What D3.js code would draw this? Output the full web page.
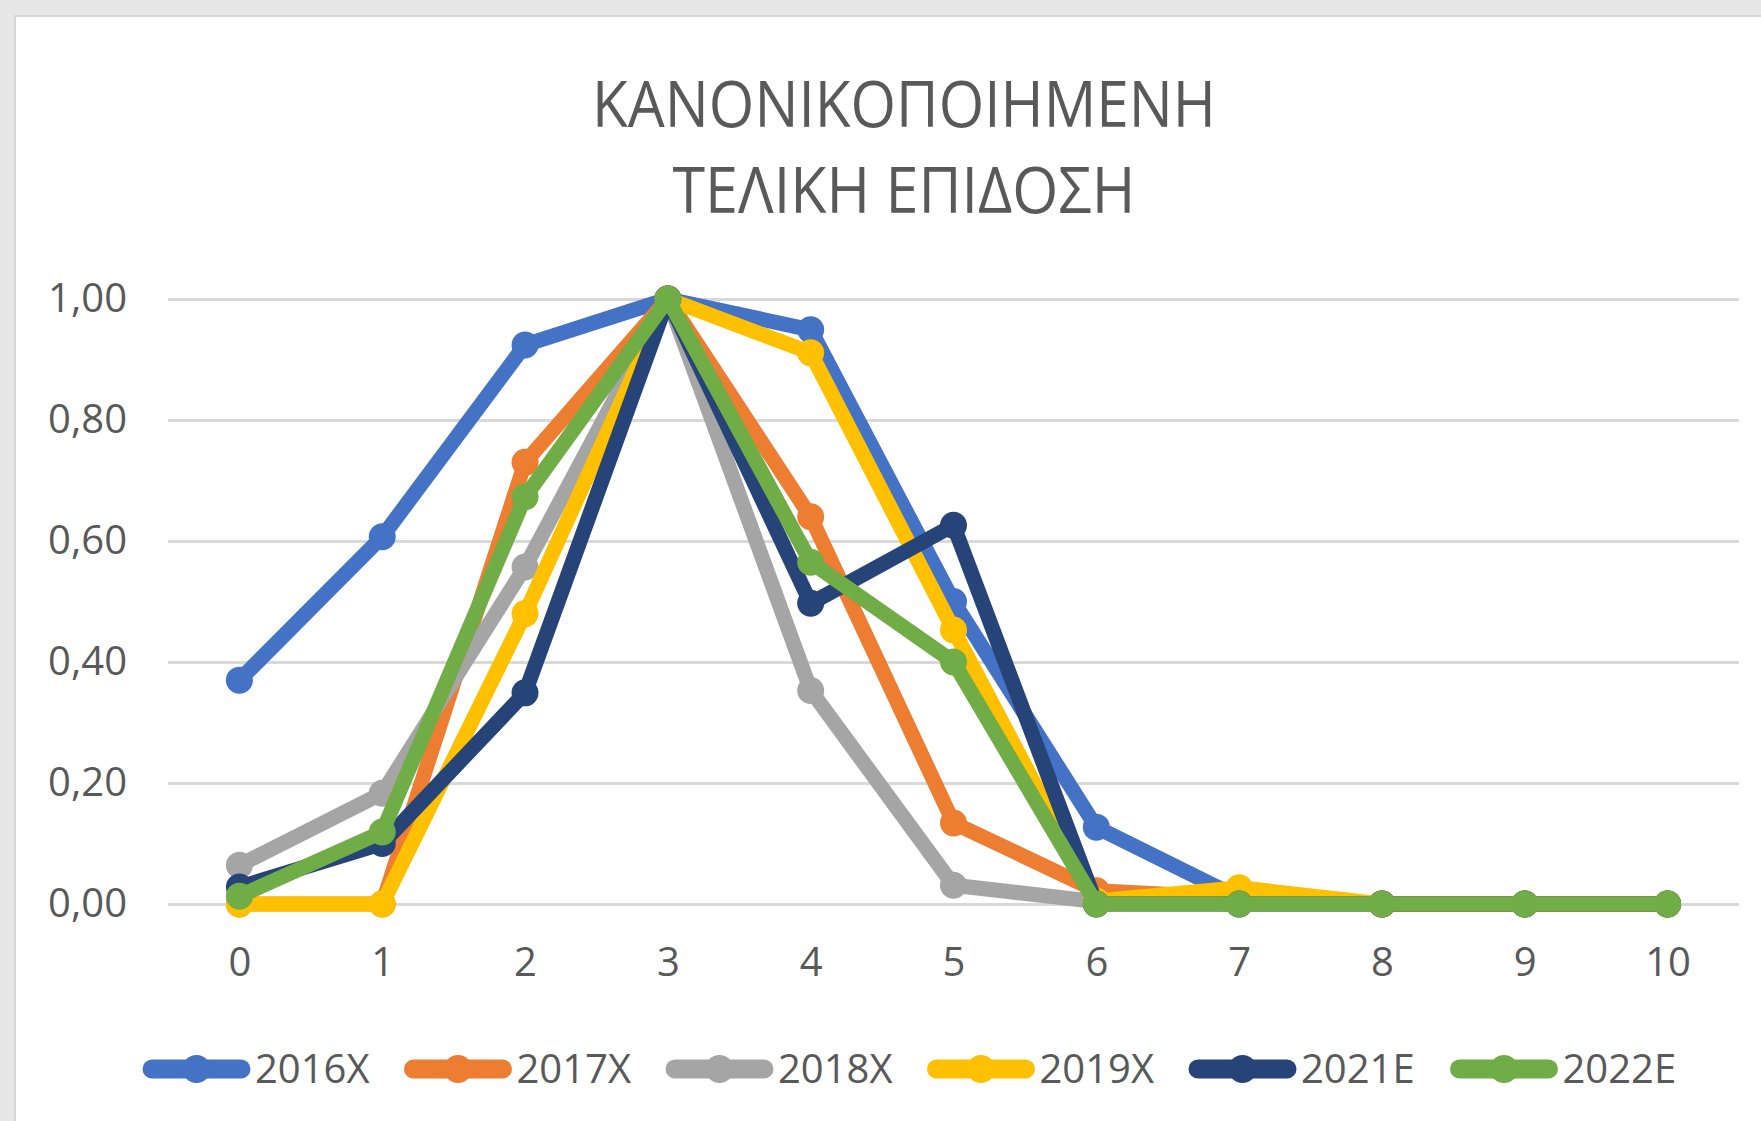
<!DOCTYPE html>
<html>
<head>
<meta charset="utf-8">
<script src="https://d3js.org/d3.v7.min.js"></script>
<style>
  html, body { margin: 0; padding: 0; background: #e7e7e7; }
  svg { display: block; }
  text { font-family: 'Open Sans', sans-serif; fill: #595959; }
</style>
</head>
<body>
<div id="chart"></div>
<script>
// chart values
const xCategories = [0, 1, 2, 3, 4, 5, 6, 7, 8, 9, 10];
const yTicks = [0, 0.2, 0.4, 0.6, 0.8, 1.0];
const titleLines = ["ΚΑΝΟΝΙΚΟΠΟΙΗΜΕΝΗ", "ΤΕΛΙΚΗ ΕΠΙΔΟΣΗ"];

const seriesNames = ["2016X", "2017X", "2018X", "2019X", "2021E", "2022E"];
const seriesColors = ["#4472c4", "#ed7d31", "#a5a5a5", "#ffc000", "#264478", "#70ad47"];

const s2016X = [0.37, 0.607, 0.924, 1.0, 0.949, 0.50, 0.127, 0.01, 0, 0, 0];
const s2017X = [0, 0, 0.73, 1.0, 0.64, 0.134, 0.022, 0.01, 0, 0, 0];
const s2018X = [0.064, 0.183, 0.557, 1.0, 0.353, 0.031, 0.004, 0, 0, 0, 0];
const s2019X = [0, 0, 0.48, 1.0, 0.911, 0.453, 0.005, 0.027, 0, 0, 0];
const s2021E = [0.028, 0.10, 0.349, 1.0, 0.497, 0.626, 0, 0, 0, 0, 0];
const s2022E = [0.013, 0.119, 0.673, 1.0, 0.565, 0.40, 0, 0, 0, 0, 0];

const seriesValues = [s2016X, s2017X, s2018X, s2019X, s2021E, s2022E];

const W = 1761, H = 1121;
const plot = { left: 168, right: 1739, top: 299, bottom: 904 };

const svg = d3.select("#chart").append("svg")
  .attr("width", W)
  .attr("height", H);

// card
svg.append("rect")
  .attr("x", 15).attr("y", 16)
  .attr("width", W).attr("height", H)
  .attr("fill", "#ffffff")
  .attr("stroke", "#d6d6d6")
  .attr("stroke-width", 2);

// title
const title = svg.append("g").attr("class", "title");
title.append("text")
  .attr("x", 904).attr("y", 127)
  .attr("text-anchor", "middle")
  .attr("font-size", 64)
  .attr("textLength", 624)
  .attr("lengthAdjust", "spacingAndGlyphs")
  .text(titleLines[0]);
title.append("text")
  .attr("x", 904).attr("y", 213)
  .attr("text-anchor", "middle")
  .attr("font-size", 64)
  .attr("textLength", 463)
  .attr("lengthAdjust", "spacingAndGlyphs")
  .text(titleLines[1]);

// scales
const x = d3.scalePoint()
  .domain(xCategories)
  .range([plot.left, plot.right])
  .padding(0.5);

const y = d3.scaleLinear()
  .domain([0, 1])
  .range([plot.bottom, plot.top]);

const fmt = d => d3.format(".2f")(d).replace(".", ",");

// gridlines + y labels
const yAxis = svg.append("g")
  .attr("transform", `translate(${plot.left},0)`)
  .call(d3.axisLeft(y).tickValues(yTicks).tickFormat(fmt)
    .tickSize(-(plot.right - plot.left)).tickPadding(41));
yAxis.select(".domain").remove();
yAxis.selectAll(".tick line")
  .attr("stroke", "#d9d9d9")
  .attr("stroke-width", 3);
yAxis.selectAll(".tick text")
  .attr("font-size", 40)
  .attr("font-family", "'Open Sans', sans-serif")
  .attr("fill", "#595959");

// x labels
const xAxis = svg.append("g")
  .attr("transform", `translate(0,${plot.bottom})`)
  .call(d3.axisBottom(x).tickSize(0).tickPadding(44));
xAxis.select(".domain").remove();
xAxis.selectAll(".tick text")
  .attr("font-size", 40)
  .attr("font-family", "'Open Sans', sans-serif")
  .attr("fill", "#595959");

// lines
const line = d3.line()
  .x((d, i) => x(xCategories[i]))
  .y(d => y(d));

seriesValues.forEach((vals, k) => {
  const g = svg.append("g").attr("class", "series-" + seriesNames[k]);
  g.append("path")
    .attr("d", line(vals))
    .attr("fill", "none")
    .attr("stroke", seriesColors[k])
    .attr("stroke-width", 15)
    .attr("stroke-linejoin", "round")
    .attr("stroke-linecap", "round");
  g.selectAll("circle")
    .data(vals)
    .enter()
    .append("circle")
    .attr("cx", (d, i) => x(xCategories[i]))
    .attr("cy", d => y(d))
    .attr("r", 13.5)
    .attr("fill", seriesColors[k]);
});

// legend
const legendY = 1069, legendStart = 144, legendStep = 261.5, symLen = 105;
const legend = svg.append("g").attr("class", "legend");
seriesNames.forEach((name, k) => {
  const lx = legendStart + k * legendStep;
  const item = legend.append("g").attr("transform", `translate(${lx},${legendY})`);
  item.append("line")
    .attr("x1", 8).attr("x2", symLen - 8)
    .attr("y1", 0).attr("y2", 0)
    .attr("stroke", seriesColors[k])
    .attr("stroke-width", 19)
    .attr("stroke-linecap", "round");
  item.append("circle")
    .attr("cx", symLen / 2).attr("cy", 0)
    .attr("r", 14)
    .attr("fill", seriesColors[k]);
  item.append("text")
    .attr("x", symLen + 6)
    .attr("y", 0)
    .attr("dy", "0.35em")
    .attr("font-size", 40)
    .text(name);
});
</script>
</body>
</html>
